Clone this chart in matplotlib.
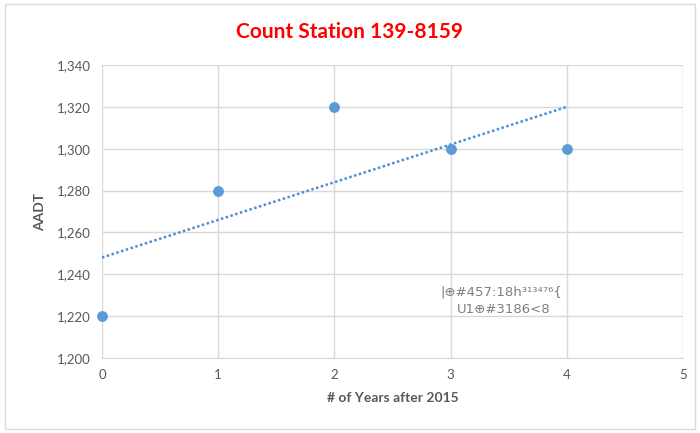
import matplotlib
matplotlib.use("Agg")
import matplotlib.pyplot as plt
import numpy as np
from matplotlib.patches import Rectangle

years = [0, 1, 2, 3, 4]
aadt = [1220, 1280, 1320, 1300, 1300]
yticks = [1200, 1220, 1240, 1260, 1280, 1300, 1320, 1340]
xticks = [0, 1, 2, 3, 4, 5]

plt.rcParams['font.family'] = ['Lato', 'DejaVu Sans']

fig = plt.figure(figsize=(7, 4.33), dpi=100)
fig.patch.set_facecolor('white')
fig.add_artist(Rectangle((0.007, 0.01), 0.986, 0.98, transform=fig.transFigure,
                         fill=False, edgecolor='#d9d9d9', linewidth=1))

ax = fig.add_axes([0.1457, 0.1732, 0.83, 0.6767])
ax.set_xlim(0, 5)
ax.set_ylim(1200, 1340)
ax.set_xticks(xticks)
ax.set_yticks(yticks)
ax.set_yticklabels([f"{v:,}" for v in yticks])
ax.grid(True, color='#d9d9d9', linewidth=1)
ax.set_axisbelow(True)
for s in ['top', 'right', 'left']:
    ax.spines[s].set_visible(False)
ax.spines['bottom'].set_color('#d9d9d9')
ax.tick_params(length=0, colors='#595959', labelsize=9.5, pad=8)

coef = np.polyfit(years, aadt, 1)
xt = np.array([years[0], years[-1]])
ax.plot(xt, np.polyval(coef, xt), linestyle=(0, (1, 1)), color='#4a8fd4', linewidth=1.8)
ax.scatter(years, aadt, s=46, color='#5b9bd5', zorder=3, clip_on=False)

ax.set_xlabel('# of Years after 2015', fontsize=10, fontweight='bold', color='#595959', labelpad=8)
ax.set_ylabel('AADT', fontsize=10, fontweight='bold', color='#595959', labelpad=8)

fig.text(0.5, 0.925, 'Count Station 139-8159', ha='center', va='center',
         fontsize=15, fontweight='bold', color='#ff0000')

ax.text(2.91, 1231.5, '|⊕#457:18h³¹³⁴⁷⁶{', fontsize=9.5, color='#7f7f7f', va='center',
        family=['DejaVu Sans'])
ax.text(3.05, 1223, 'U1⊕#3186<8', fontsize=9.5, color='#7f7f7f', va='center',
        family=['DejaVu Sans'])

fig.savefig('out.png', dpi=100)
